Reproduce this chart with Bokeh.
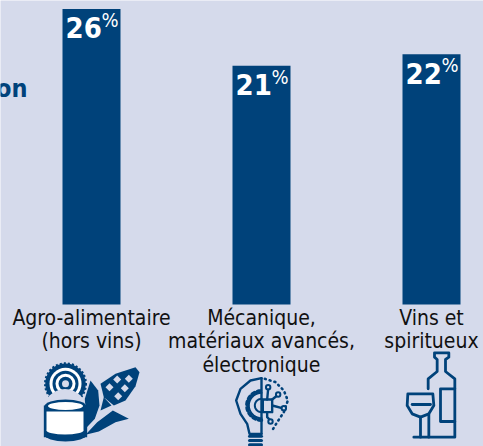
import numpy as np
from bokeh.plotting import figure
from bokeh.models import Range1d
from bokeh.core.properties import value
from bokeh.embed import file_html
from bokeh.resources import INLINE

categories = ["Agro-alimentaire\n(hors vins)", "Mécanique,\nmatériaux avancés,\nélectronique", "Vins et\nspiritueux"]
values = [26, 21, 22]
value_labels = ["26", "21", "22"]
side_label = "on"

BG = "#d5daeb"
BLUE = "#00427a"
INK = "#111111"
FONT = "DejaVu Sans Condensed"

xs = [0, 1, 2]
p = figure(width=483, height=446, output_backend="svg", toolbar_location=None,
           x_range=Range1d(-91 / 170, (483 - 91) / 170),
           y_range=Range1d(-142 / 11.37, 304 / 11.37),
           background_fill_color=BG, border_fill_color=BG, outline_line_color=None,
           min_border=0, min_border_left=0, min_border_right=0, min_border_top=0, min_border_bottom=0)
p.axis.visible = False
p.grid.visible = False
p.styles = {"position": "absolute", "left": "0px", "top": "0px"}
p.extra_x_ranges = {"px": Range1d(0, 483)}
p.extra_y_ranges = {"px": Range1d(446, 0)}

p.vbar(x=xs, top=values, width=58 / 170, bottom=0, fill_color=BLUE, line_color=None)

p.text(x=xs, y=values, text=value_labels, x_offset=-26, y_offset=19, text_align="left", text_baseline="alphabetic",
       text_color="white", text_font=value(FONT), text_font_style="bold", text_font_size="29px", text_line_height=1.0)
p.text(x=xs, y=values, text=["%"] * 3, x_offset=10, y_offset=11, text_align="left", text_baseline="alphabetic",
       text_color="white", text_font=value(FONT), text_font_size="20px", text_line_height=1.0)
p.text(x=xs, y=[0] * 3, text=categories, y_offset=1, text_align="center", text_baseline="top",
       text_color=INK, text_font=value(FONT), text_font_size="21px", text_line_height=0.98)
p.text(x=[27], y=[88], text=[side_label], x_range_name="px", y_range_name="px", text_align="right",
       text_baseline="alphabetic", text_color=BLUE, text_font=value(FONT), text_font_style="bold", text_font_size="25px", text_line_height=1.0)


def tr(pts, ox, oy):
    return [ox + a / 3 for a, b in pts], [oy + b / 3 for a, b in pts]


def ln(pts, ox, oy, w=2.4, dash="solid", color=BLUE):
    x, y = tr(pts, ox, oy)
    p.line(x, y, x_range_name="px", y_range_name="px", line_color=color, line_width=w, line_dash=dash, line_join="round", line_cap="round")


def poly(pts, ox, oy, color=BLUE):
    x, y = tr(pts, ox, oy)
    p.patch(x, y, x_range_name="px", y_range_name="px", fill_color=color, line_color=None)


def disc(cx, cy, r, color=BLUE, line=None, w=1):
    p.circle([cx], [cy], radius=r, x_range_name="px", y_range_name="px", fill_color=color, line_color=line, line_width=w)


# Icon 1: tin, gear, corn
OX, OY = 35, 355
disc(65, 383.3, 18.5, BLUE, BLUE, 3.5)
p.circle([65], [383.3], radius=20, x_range_name="px", y_range_name="px", fill_color=None, line_color=BLUE, line_width=3, line_dash="2 2")
for r, c in [(16, "white"), (13, BLUE), (10, "white"), (7, BLUE), (3.5, BG)]:
    disc(65, 383.3, r, c)
poly([(165, 75), (188, 105), (192, 150), (178, 190), (150, 220), (148, 130)], OX, OY)
poly([(150, 238), (185, 200), (232, 165), (280, 190), (240, 200), (190, 228)], OX, OY)
poly([(195, 85), (240, 55), (300, 35), (312, 50), (300, 92), (270, 135), (235, 150), (205, 125)], OX, OY)
poly([(205, 125), (228, 150), (195, 165)], OX, OY)
for cx, cy in [(222, 95), (245, 72), (280, 70), (248, 122), (268, 98)]:
    poly([(cx - 12, cy), (cx, cy - 12), (cx + 12, cy), (cx, cy + 12)], OX, OY, BG)
disc(64.5, 410, 21.5, BG)
x_c, y_c = tr([(25, 150), (155, 150), (155, 245), (25, 245)], OX, OY)
p.patch(x_c, y_c, x_range_name="px", y_range_name="px", fill_color=BLUE, line_color=None)
p.ellipse([65], [406], width=42, height=14, x_range_name="px", y_range_name="px", fill_color=BLUE, line_color=None)
p.ellipse([65], [434], width=42, height=14, x_range_name="px", y_range_name="px", fill_color=BLUE, line_color=None)
p.ellipse([65], [405.5], width=35, height=8, x_range_name="px", y_range_name="px", fill_color="white", line_color=None)
p.patch([46, 83, 83, 46], [411, 411, 430, 430], x_range_name="px", y_range_name="px", fill_color="white", line_color=None)
p.ellipse([64.5], [430], width=37, height=8, x_range_name="px", y_range_name="px", fill_color="white", line_color=None)

# Icon 2: bulb, half gear, half circuit
OX, OY = 225, 365
ln([(108, 38), (75, 45), (45, 70), (32, 105), (45, 145), (65, 175), (72, 205), (108, 205)], OX, OY)
ln([(108, 38), (108, 205)], OX, OY)
ln([(118, 40), (150, 50), (175, 75), (187, 105), (175, 140), (155, 170), (140, 195)], OX, OY, 2.6, "1 4")
t = np.linspace(np.pi / 2, 3 * np.pi / 2, 20)
ln(list(zip(108 + 44 * np.cos(t), 120 + 44 * np.sin(t))), OX, OY, 3.5, "3 3")
ln(list(zip(108 + 38 * np.cos(t), 120 + 38 * np.sin(t))), OX, OY, 2)
ln(list(zip(108 + 20 * np.cos(t), 120 + 20 * np.sin(t))), OX, OY, 2)
ln([(112, 102), (140, 102), (140, 140), (112, 140), (112, 102)], OX, OY)
ln([(125, 102), (128, 70)], OX, OY)
ln([(140, 120), (170, 128)], OX, OY)
ln([(125, 140), (125, 155), (135, 165)], OX, OY)
ln([(140, 102), (155, 90)], OX, OY)
for cx, cy in [(128, 65), (175, 128), (135, 168), (158, 87)]:
    x, y = tr([(cx, cy)], OX, OY)
    p.circle(x, y, radius=2.2, x_range_name="px", y_range_name="px", fill_color=BG, line_color=BLUE, line_width=2)
for by in [212, 225, 238]:
    ln([(72, by), (108, by)], OX, OY, 3)

# Icon 3: bottle and glass
OX, OY = 395, 345
ln([(98, 130), (98, 100), (125, 78), (125, 42), (117, 35), (117, 22), (160, 22), (160, 35), (150, 42),
    (150, 78), (178, 100), (178, 275), (55, 275)], OX, OY, 2.8)
ln([(178, 130), (135, 130), (135, 228), (178, 228)], OX, OY, 2.8)
ln([(37, 145), (112, 145), (115, 180), (100, 205), (75, 215), (50, 205), (35, 180), (37, 145)], OX, OY, 2.8)
ln([(50, 177), (105, 177)], OX, OY, 2.8)
ln([(75, 215), (75, 275)], OX, OY, 2.8)
ln([(100, 207), (100, 275)], OX, OY, 2.8)

open("out.html", "w").write(file_html(p, INLINE))
